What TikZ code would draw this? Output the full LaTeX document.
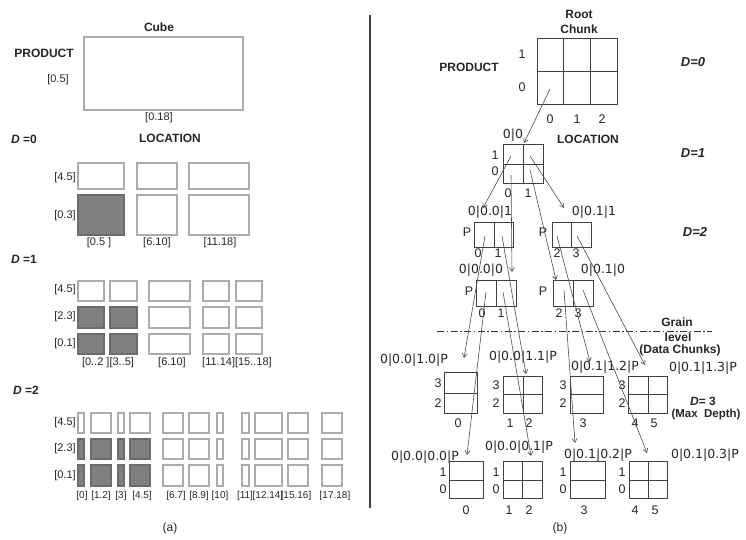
\documentclass[tikz,border=0pt]{standalone}
\usepackage{fontspec}
\setmainfont{Liberation Sans}
\newfontfamily\pathfont{DejaVu Sans}
\usetikzlibrary{arrows.meta}
\begin{document}
\begin{tikzpicture}[x=1pt,y=-1pt,
  every node/.style={inner sep=0pt, text=black!85},
  lab/.style={font=\fontsize{11}{12}\selectfont},
  slab/.style={font=\fontsize{10}{11}\selectfont},
  bl/.style={font=\bfseries\fontsize{12}{13}\selectfont},
  dlab/.style={font=\bfseries\fontsize{12}{13}\selectfont},
  num/.style={font=\fontsize{12.5}{14}\selectfont},
  pth/.style={font=\pathfont\fontsize{12.5}{14}\selectfont},
  lr/.style={draw=gray!65, line width=1.3pt},
  lrf/.style={draw=gray!85!black, fill=gray, line width=1.3pt},
  ch/.style={draw=black!75, line width=0.8pt},
  arr/.style={-{Straight Barb[length=4pt,width=5pt]}, draw=black!70, line width=0.6pt},
  grain/.style={draw=black!80, line width=0.8pt, dash pattern=on 7pt off 2.5pt on 1.5pt off 2.5pt}]
\useasboundingbox (0,0) rectangle (746,540);

% divider
\coordinate (dv1) at (370,15);
\coordinate (dv2) at (370,508);
\draw[draw=black!75, line width=1.4pt] (dv1) -- (dv2);

% ---------------- panel (a) ----------------
\node[bl] (cube) at (159,27) {Cube};
\node[bl] (prodA) at (44,53) {PRODUCT};
\node[lab] (p05) at (58,80) {[0.5]};
\draw[lr] (84,37) rectangle (243,110);
\node[lab] (l018) at (159,118) {[0.18]};

\node[dlab] (d0a) at (24,139) {\textit{D} =0};
\node[bl] (locA) at (170,138) {LOCATION};
\foreach \xa/\xb in {78/124,137/177,189/249} {
  \draw[lr] (\xa,163) rectangle (\xb,189);
  \draw[lr] (\xa,195) rectangle (\xb,235);
}
\draw[lrf] (78,195) rectangle (124,235);
\node[lab] (a45) at (65,178) {[4.5]};
\node[lab] (a03) at (65,216) {[0.3]};
\node[lab] (a05) at (99,243) {[0.5 ]};
\node[lab] (a610) at (157,243) {[6.10]};
\node[lab] (a1118) at (220,243) {[11.18]};

\node[dlab] (d1a) at (24,259) {\textit{D} =1};
\foreach \xa/\xb in {78/104,110/137,149/190,203/229,236/262} {
  \foreach \ya/\yb in {281/301,307/328,334/354} {
    \draw[lr] (\xa,\ya) rectangle (\xb,\yb);
  }
}
\foreach \xa/\xb in {78/104,110/137} {
  \draw[lrf] (\xa,307) rectangle (\xb,328);
  \draw[lrf] (\xa,334) rectangle (\xb,354);
}
\node[lab] (b45) at (65,290) {[4.5]};
\node[lab] (b23) at (65,317) {[2.3]};
\node[lab] (b01) at (65,344) {[0.1]};
\node[lab] (b0235) at (108,363) {[0..2 ][3..5]};
\node[lab] (b610) at (172,363) {[6.10]};
\node[lab] (b1118) at (237,363) {[11.14][15..18]};

\node[dlab] (d2a) at (26,390) {\textit{D}  =2};
\foreach \xa/\xb in {78/84,91/111,118/124,130/150,163/183,189/209,217/223,242/249,255/282,288/308,322/342} {
  \foreach \ya/\yb in {413/433,439/459,465/486} {
    \draw[lr] (\xa,\ya) rectangle (\xb,\yb);
  }
}
\foreach \xa/\xb in {78/84,91/111,118/124,130/150} {
  \draw[lrf] (\xa,439) rectangle (\xb,459);
  \draw[lrf] (\xa,465) rectangle (\xb,486);
}
\node[lab] (c45) at (65,423) {[4.5]};
\node[lab] (c23) at (65,449) {[2.3]};
\node[lab] (c01) at (65,476) {[0.1]};
\node[slab] (c0) at (82,496) {[0]};
\node[slab] (c12) at (101,496) {[1.2]};
\node[slab] (c3) at (121,496) {[3]};
\node[slab] (c45b) at (142,496) {[4.5]};
\node[slab] (c67) at (176,496) {[6.7]};
\node[slab] (c89) at (199,496) {[8.9]};
\node[slab] (c10) at (220,496) {[10]};
\node[slab] (c11) at (245,496) {[11]};
\node[slab] (c1214) at (268,496) {[12.14]};
\node[slab] (c1516) at (296,496) {[15.16]};
\node[slab] (c1718) at (335,496) {[17.18]};
\node[font=\fontsize{12}{13}\selectfont] (capa) at (170,528) {(a)};

% ---------------- panel (b) ----------------
\node[bl, align=center, font=\bfseries\fontsize{12}{15}\selectfont] (root) at (579,22) {Root\\Chunk};
\node[bl] (prodB) at (469,67) {PRODUCT};
\node[dlab, font=\bfseries\itshape\fontsize{13}{14}\selectfont] (d0b) at (693,62) {D=0};
\draw[ch] (537,38) rectangle (617,104);
\draw[ch] (563,38) -- (563,104) (590,38) -- (590,104) (537,71) -- (617,71);
\node[num] (r1) at (522,54) {1};
\node[num] (r0) at (522,87) {0};
\node[num] (rx0) at (550,119) {0};
\node[num] (rx1) at (577,119) {1};
\node[num] (rx2) at (602,119) {2};

% D=1 chunk
\node[pth] (k00) at (513,135) {0|0};
\node[bl] (locB) at (588,139) {LOCATION};
\node[dlab, font=\bfseries\itshape\fontsize{13}{14}\selectfont] (d1b) at (693,153) {D=1};
\draw[ch] (503,144) rectangle (543,183);
\draw[ch] (523,144) -- (523,183) (503,164) -- (543,164);
\node[num] (k1) at (495,155) {1};
\node[num] (k0) at (495,171) {0};
\node[num] (kx0) at (508,193) {0};
\node[num] (kx1) at (528,193) {1};

% D=2 chunks
\node[pth] (ul) at (490,212) {0|0.0|1};
\node[pth] (ur) at (594,212) {0|0.1|1};
\node[dlab, font=\bfseries\itshape\fontsize{13}{14}\selectfont] (d2b) at (695,232) {D=2};
\draw[ch] (474,222) rectangle (513,247); \draw[ch] (494,222) -- (494,247);
\draw[ch] (552,222) rectangle (591,247); \draw[ch] (571,222) -- (571,247);
\node[num] (ulp) at (467,232) {P};
\node[num] (urp) at (543,232) {P};
\node[num] (ulx0) at (478,253) {0};
\node[num] (ulx1) at (498,253) {1};
\node[num] (urx2) at (557,253) {2};
\node[num] (urx3) at (576,253) {3};

\node[pth] (ll) at (481,270) {0|0.0|0};
\node[pth] (lrr) at (603,270) {0|0.1|0};
\draw[ch] (476,280) rectangle (516,306); \draw[ch] (496,280) -- (496,306);
\draw[ch] (553,280) rectangle (593,306); \draw[ch] (573,280) -- (573,306);
\node[num] (llp) at (469,291) {P};
\node[num] (lrp) at (543,291) {P};
\node[num] (llx0) at (482,313) {0};
\node[num] (llx1) at (501,313) {1};
\node[num] (lrx2) at (559,313) {2};
\node[num] (lrx3) at (578,313) {3};

% grain level
\coordinate (gl1) at (437,331);
\coordinate (gl2) at (712,331);
\draw[grain] (gl1) -- (gl2);
\node[bl] (gr1) at (677,322) {Grain};
\node[bl] (gr2) at (678,337) {level};
\node[bl] (gr3) at (680,350) {(Data Chunks)};

% D=3 chunks
\node[pth] (pA) at (414,360) {0|0.0|1.0|P};
\node[pth] (pB) at (523,357) {0|0.0|1.1|P};
\node[pth] (pC) at (605,367) {0|0.1|1.2|P};
\node[pth] (pD) at (703,368) {0|0.1|1.3|P};
\draw[ch] (444,372) rectangle (477,413); \draw[ch] (444,393) -- (477,393);
\draw[ch] (503,376) rectangle (542,413); \draw[ch] (523,376) -- (523,413) (503,394) -- (542,394);
\draw[ch] (570,376) rectangle (603,413); \draw[ch] (570,394) -- (603,394);
\draw[ch] (628,376) rectangle (667,413); \draw[ch] (648,376) -- (648,413) (628,394) -- (667,394);
\node[num] (A3) at (438,383) {3};
\node[num] (A2) at (438,403) {2};
\node[num] (Ax0) at (458,423) {0};
\node[num] (B3) at (496,385) {3};
\node[num] (B2) at (496,403) {2};
\node[num] (Bx1) at (510,423) {1};
\node[num] (Bx2) at (529,423) {2};
\node[num] (C3) at (563,385) {3};
\node[num] (C2) at (563,403) {2};
\node[num] (Cx3) at (583,423) {3};
\node[num] (D3) at (622,385) {3};
\node[num] (D2) at (622,403) {2};
\node[num] (Dx4) at (635,423) {4};
\node[num] (Dx5) at (654,423) {5};
\node[font=\bfseries\fontsize{12}{13}\selectfont] (dd3) at (703,401) {\textit{D}= 3};
\node[font=\bfseries\fontsize{11.5}{12}\selectfont] (maxd) at (706,415) {(Max\ \ Depth)};

% bottom chunks
\node[pth] (pE) at (425,457) {0|0.0|0.0|P};
\node[pth] (pF) at (519,447) {0|0.0|0.1|P};
\node[pth] (pG) at (598,455) {0|0.1|0.2|P};
\node[pth] (pH) at (705,455) {0|0.1|0.3|P};
\draw[ch] (449,461) rectangle (483,498); \draw[ch] (449,480) -- (483,480);
\draw[ch] (503,461) rectangle (542,498); \draw[ch] (522,461) -- (522,498) (503,480) -- (542,480);
\draw[ch] (570,461) rectangle (605,498); \draw[ch] (570,480) -- (605,480);
\draw[ch] (629,461) rectangle (667,498); \draw[ch] (648,461) -- (648,498) (629,480) -- (667,480);
\node[num] (E1) at (443,472) {1};
\node[num] (E0) at (443,489) {0};
\node[num] (Ex0) at (466,510) {0};
\node[num] (F1) at (496,472) {1};
\node[num] (F0) at (496,489) {0};
\node[num] (Fx1) at (509,510) {1};
\node[num] (Fx2) at (529,510) {2};
\node[num] (G1) at (563,472) {1};
\node[num] (G0) at (563,489) {0};
\node[num] (Gx3) at (584,510) {3};
\node[num] (H1) at (622,472) {1};
\node[num] (H0) at (622,489) {0};
\node[num] (Hx4) at (635,510) {4};
\node[num] (Hx5) at (655,510) {5};
\node[font=\fontsize{12}{13}\selectfont] (capb) at (560,528) {(b)};

% arrows
\coordinate (s0) at (550,89);   \coordinate (t0) at (524,143);
\coordinate (sa) at (511,156);  \coordinate (ta) at (483,208);
\coordinate (sb) at (530,156);  \coordinate (tb) at (564,208);
\coordinate (sc) at (511,175);  \coordinate (tc) at (512,272);
\coordinate (sd) at (530,170);  \coordinate (td) at (556,280);
\coordinate (s1) at (485,236);  \coordinate (t1) at (464,358);
\coordinate (s2) at (502,236);  \coordinate (t2) at (526,374);
\coordinate (s3) at (557,236);  \coordinate (t3) at (590,362);
\coordinate (s4) at (577,236);  \coordinate (t4) at (645,365);
\coordinate (s5) at (486,292);  \coordinate (t5) at (467,455);
\coordinate (s6) at (503,292);  \coordinate (t6) at (531,456);
\coordinate (s7) at (564,290);  \coordinate (t7) at (575,443);
\coordinate (s8) at (583,290);  \coordinate (t8) at (647,453);
\foreach \s/\t in {s0/t0,sa/ta,sb/tb,sc/tc,sd/td,s1/t1,s2/t2,s3/t3,s4/t4,s5/t5,s6/t6,s7/t7,s8/t8}
  \draw[arr] (\s) -- (\t);
\end{tikzpicture}
\end{document}
